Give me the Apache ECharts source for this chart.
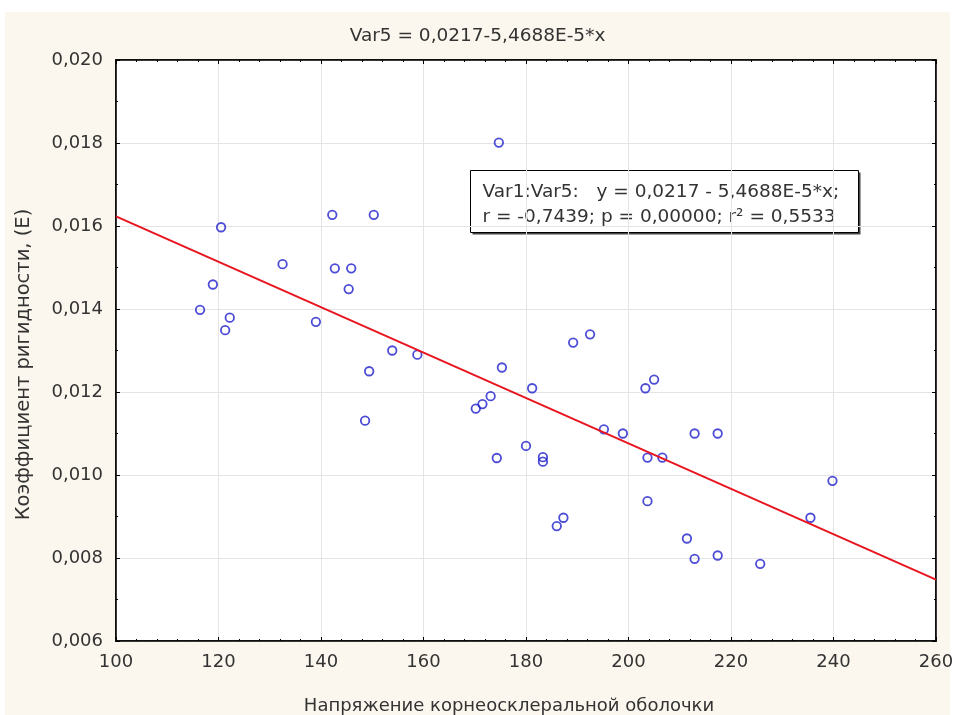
<!DOCTYPE html>
<html>
<head>
<meta charset="utf-8">
<script src="https://cdn.jsdelivr.net/npm/echarts@6/dist/echarts.min.js"></script>
<style>
html,body{margin:0;padding:0;background:#ffffff;}
#c{width:955px;height:715px;}
</style>
</head>
<body>
<div id="c"></div>
<script>
var xValues = [120.5,142.2,150.3,132.5,142.7,145.9,145.4,118.9,116.4,122.2,121.3,139.0,153.9,158.8,149.4,148.6,
  174.7,189.2,192.5,175.3,181.2,173.1,171.5,170.2,203.3,205.0,195.2,198.9,212.9,217.4,180.0,174.3,183.3,183.3,
  203.7,206.6,239.8,203.7,187.3,186.0,235.5,211.4,217.4,212.9,225.7];
var yValues = [0.01597,0.01627,0.01627,0.01508,0.01498,0.01498,0.01448,0.01459,0.01398,0.01379,0.01349,0.01369,0.01300,0.01290,0.01250,0.01131,
  0.01801,0.01319,0.01339,0.01259,0.01209,0.01190,0.01171,0.01160,0.01209,0.01230,0.01110,0.01100,0.01100,0.01100,0.01070,0.01041,0.01043,0.01032,
  0.01042,0.01042,0.00986,0.00937,0.00897,0.00877,0.00897,0.00847,0.00806,0.00798,0.00786];
var fitLine = [[100, 0.01623], [260, 0.00748]];
var xTicks = {min: 100, max: 260, interval: 20};
var yTicks = {min: 0.006, max: 0.020, interval: 0.002};
var titleText = 'Var5 = 0,0217-5,4688E-5*x';
var xName = 'Напряжение корнеосклеральной оболочки';
var yName = 'Коэффициент ригидности, (Е)';
var boxLines = ['Var1:Var5:   y = 0,0217 - 5,4688E-5*x;', 'r = -0,7439; p = 0,00000; r² = 0,5533'];

var points = xValues.map(function(x, i){ return [x, yValues[i]]; });
var font = 'DejaVu Sans, sans-serif';
var txt = '#333333';
var chart = echarts.init(document.getElementById('c'));
var fmtY = function(v){ return v.toFixed(3).replace('.', ','); };
var axisCommon = {
  axisLine: {show: true, onZero: false, lineStyle: {color: '#000', width: 1.5}},
  axisTick: {show: true, inside: true, length: 4, lineStyle: {color: '#000'}},
  minorTick: {show: true, splitNumber: 5, length: 2, lineStyle: {color: '#000'}}
};
chart.setOption({
  backgroundColor: '#ffffff',
  animation: false,
  graphic: [
    {type: 'rect', z: -10, shape: {x: 5, y: 12, width: 945, height: 703}, style: {fill: '#fcf7ee'}},
    {type: 'group', left: 470, top: 170, z: 100, children: [
      {type: 'rect', shape: {x: 2, y: 2, width: 388, height: 62}, style: {fill: '#444'}},
      {type: 'rect', shape: {x: 0, y: 0, width: 388, height: 62}, style: {fill: '#fff', stroke: '#000', lineWidth: 1}},
      {type: 'text', x: 12, y: 9, style: {
        text: boxLines.join('\n'), fontFamily: font, fontSize: 18.5, fill: '#333', lineHeight: 25
      }}
    ]}
  ],
  title: {text: titleText, left: 'center', top: 22,
    textStyle: {fontFamily: font, fontSize: 18.5, fontWeight: 'normal', color: txt}},
  grid: {left: 116, right: 19, top: 60, bottom: 74, outerBoundsMode: 'none', containLabel: false,
    show: true, backgroundColor: '#ffffff', borderColor: '#000', borderWidth: 1.5},
  xAxis: [Object.assign({
    type: 'value', min: xTicks.min, max: xTicks.max, interval: xTicks.interval,
    name: xName, nameLocation: 'middle', nameGap: 56,
    nameTextStyle: {fontFamily: font, fontSize: 18, color: txt, padding: [0, 34, 0, 0]},
    axisLabel: {fontFamily: font, fontSize: 18, color: txt, margin: 12},
    splitLine: {show: true, lineStyle: {color: '#e4e4e4'}}
  }, axisCommon),
  Object.assign({
    type: 'value', position: 'top', min: xTicks.min, max: xTicks.max, interval: xTicks.interval,
    axisLabel: {show: false}, splitLine: {show: false}
  }, axisCommon)],
  yAxis: [Object.assign({}, axisCommon, {
    type: 'value', min: yTicks.min, max: yTicks.max, interval: yTicks.interval,
    name: yName, nameLocation: 'middle', nameGap: 82,
    nameTextStyle: {fontFamily: font, fontSize: 19.5, color: txt, padding: [0, 28, 0, 0]},
    axisLabel: {fontFamily: font, fontSize: 18, color: txt, margin: 13, formatter: fmtY},
    minorTick: {show: true, splitNumber: 2, length: 2, lineStyle: {color: '#000'}},
    splitLine: {show: true, lineStyle: {color: '#e4e4e4'}}
  }),
  Object.assign({}, axisCommon, {
    type: 'value', position: 'right', min: yTicks.min, max: yTicks.max, interval: yTicks.interval,
    axisLabel: {show: false}, splitLine: {show: false},
    minorTick: {show: true, splitNumber: 2, length: 2, lineStyle: {color: '#000'}}
  })],
  series: [
    {type: 'scatter', data: points, symbol: 'circle', symbolSize: 8.5, z: 3,
      itemStyle: {color: 'rgba(0,0,0,0)', borderColor: '#1f1fcc', borderWidth: 1.8}},
    {type: 'line', data: fitLine, symbol: 'none', z: 4,
      lineStyle: {color: '#e8141e', width: 2}}
  ]
});
</script>
</body>
</html>
